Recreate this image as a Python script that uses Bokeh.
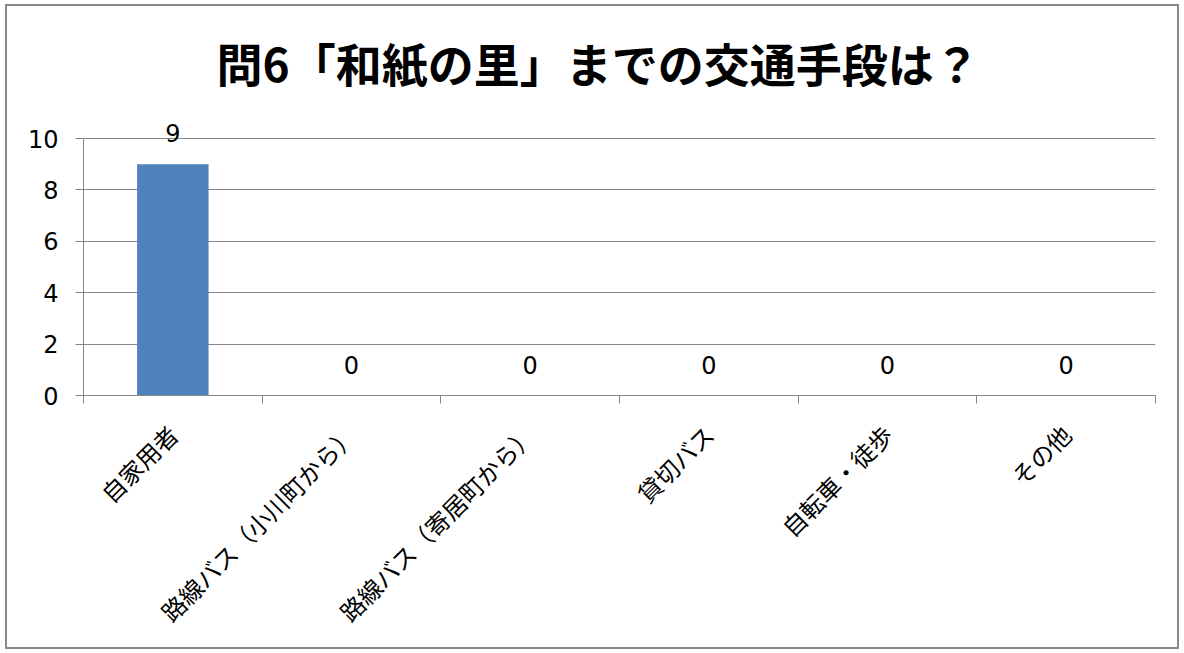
import math
from bokeh.plotting import figure
from bokeh.models import Range1d, FixedTicker, ColumnDataSource
from bokeh.core.properties import value
from bokeh.embed import file_html
from bokeh.resources import INLINE

title_text = "問6「和紙の里」までの交通手段は？"
categories = ["自家用者", "路線バス（小川町から）", "路線バス（寄居町から）", "貸切バス", "自転車・徒歩", "その他"]
counts = [9, 0, 0, 0, 0, 0]
y_ticks = [0, 2, 4, 6, 8, 10]

GRAY = "#868686"
NUM_FONT = "DejaVu Sans, Noto Sans CJK JP"
JP_FONT = "Noto Sans CJK JP"

xs = [i + 0.5 for i in range(len(categories))]
src = ColumnDataSource(dict(x=xs, top=counts, label=[str(c) for c in counts]))

# frame extends above 10 so the data label of the tall bar is not clipped
p = figure(width=1174, height=645, x_range=Range1d(0, len(categories)), y_range=Range1d(0, 11.48),
           output_backend="svg", toolbar_location=None,
           min_border_left=76, min_border_right=26, min_border_top=94, min_border_bottom=256)
p.styles = {"border": "2px solid #8a8a8a", "margin-left": "5px", "margin-top": "4px"}
p.outline_line_color = None
p.background_fill_color = "white"
p.border_fill_color = "white"

# bars
p.vbar(x="x", top="top", width=0.4, source=src, color="#4F81BD", line_color=None)
# data labels
p.text(x="x", y="top", text="label", source=src, text_align="center", text_baseline="middle",
       y_offset=-31, text_font=value(NUM_FONT), text_font_size="24px", text_color="black")

# y axis
p.yaxis.ticker = FixedTicker(ticks=y_ticks)
p.yaxis.bounds = (0, 10)
p.yaxis.minor_tick_line_color = None
p.yaxis.major_tick_in = 0
p.yaxis.major_tick_out = 8
p.yaxis.axis_line_color = GRAY
p.yaxis.major_tick_line_color = GRAY
p.yaxis.major_label_text_font = NUM_FONT
p.yaxis.major_label_text_font_size = "24px"
p.yaxis.major_label_text_color = "black"
p.yaxis.major_label_standoff = 17

# x axis: labels at centers, ticks at boundaries
p.xaxis.ticker = FixedTicker(ticks=xs, minor_ticks=list(range(len(categories) + 1)))
p.xaxis.major_label_overrides = {x: c for x, c in zip(xs, categories)}
p.xaxis.major_tick_in = 0
p.xaxis.major_tick_out = 0
p.xaxis.minor_tick_in = 0
p.xaxis.minor_tick_out = 8
p.xaxis.minor_tick_line_color = GRAY
p.xaxis.axis_line_color = GRAY
p.xaxis.major_label_orientation = math.pi / 4
p.xaxis.major_label_text_font = JP_FONT
p.xaxis.major_label_text_font_size = "24px"
p.xaxis.major_label_text_color = "black"
p.xaxis.major_label_standoff = 26

p.xgrid.grid_line_color = None
p.ygrid.ticker = FixedTicker(ticks=y_ticks)
p.ygrid.grid_line_color = GRAY

p.title.text = title_text
p.title.align = "left"
p.title.offset = 133
p.title.standoff = 12
p.title.text_font = JP_FONT
p.title.text_font_size = "46px"
p.title.text_font_style = "bold"
p.title.text_color = "black"

open("out.html", "w").write(file_html(p, INLINE))
